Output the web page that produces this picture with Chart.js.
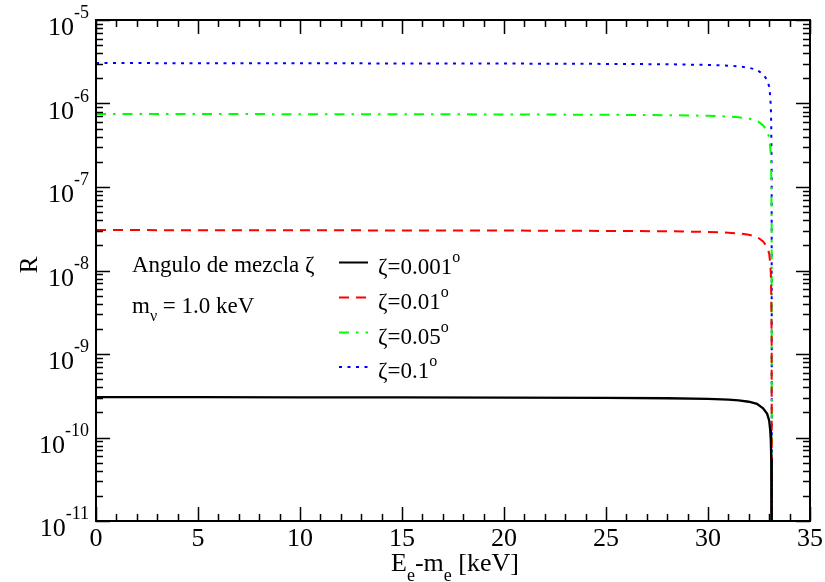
<!DOCTYPE html>
<html>
<head>
<meta charset="utf-8">
<script src="https://cdn.jsdelivr.net/npm/chart.js@4/dist/chart.umd.min.js"></script>
<style>
html,body{margin:0;padding:0;background:#fff;}
canvas{display:block;}
</style>
</head>
<body>
<canvas id="c" width="825" height="582"></canvas>
<script>
// ---- data ----
const energy = [0, 5, 10, 15, 20, 25, 28, 30, 31, 31.5, 32, 32.4, 32.7, 32.9, 33.0, 33.05, 33.08, 33.1, 33.12, 33.13];
const rZeta0001 = [3.05e-10, 3.04e-10, 3.03e-10, 3.02e-10, 3.01e-10, 2.98e-10, 2.95e-10, 2.90e-10, 2.84e-10, 2.78e-10, 2.68e-10, 2.53e-10, 2.23e-10, 1.92e-10, 1.59e-10, 1.22e-10, 0.92e-10, 0.55e-10, 0.15e-10, 1e-13];
const rZeta001  = [3.05e-8, 3.04e-8, 3.03e-8, 3.02e-8, 3.01e-8, 2.98e-8, 2.95e-8, 2.90e-8, 2.84e-8, 2.78e-8, 2.68e-8, 2.53e-8, 2.23e-8, 1.92e-8, 1.59e-8, 1.22e-8, 0.92e-8, 0.55e-8, 0.15e-8, 1e-13];
const rZeta005  = [7.50e-7, 7.48e-7, 7.45e-7, 7.43e-7, 7.40e-7, 7.33e-7, 7.25e-7, 7.13e-7, 6.98e-7, 6.83e-7, 6.60e-7, 6.23e-7, 5.48e-7, 4.73e-7, 3.90e-7, 3.00e-7, 2.25e-7, 1.35e-7, 0.375e-7, 1e-13];
const rZeta01   = [3.05e-6, 3.04e-6, 3.03e-6, 3.02e-6, 3.01e-6, 2.98e-6, 2.95e-6, 2.90e-6, 2.84e-6, 2.78e-6, 2.68e-6, 2.53e-6, 2.23e-6, 1.92e-6, 1.59e-6, 1.22e-6, 0.92e-6, 0.55e-6, 0.15e-6, 1e-13];
const seriesLabels = ["ζ=0.001", "ζ=0.01", "ζ=0.05", "ζ=0.1"];
const xTicks = [0, 5, 10, 15, 20, 25, 30, 35];
const yExponents = [-11, -10, -9, -8, -7, -6, -5];

const SERIF = '"Liberation Serif", "Times New Roman", serif';
const colors = ['#000000', '#ff0000', '#00ff00', '#0000ff'];
const dashes = [[], [10, 7], [10, 7, 2.5, 7], [3, 5.5]];
const allSeries = [rZeta0001, rZeta001, rZeta005, rZeta01];

const datasets = allSeries.map((arr, i) => ({
  label: seriesLabels[i],
  data: energy.map((e, j) => ({x: e, y: arr[j]})),
  borderColor: colors[i],
  borderWidth: i === 0 ? 2.3 : 2,
  borderDash: dashes[i],
  pointRadius: 0,
  fill: false,
  tension: 0
}));

const decor = {
  id: 'decor',
  afterDraw(chart) {
    const ctx = chart.ctx;
    const a = chart.chartArea;
    const xs = chart.scales.x, ys = chart.scales.y;
    ctx.save();
    ctx.strokeStyle = '#000';
    ctx.lineWidth = 2;
    ctx.setLineDash([]);
    ctx.strokeRect(a.left, a.top, a.right - a.left, a.bottom - a.top);
    ctx.lineWidth = 1.5;
    ctx.beginPath();
    for (let v = 0; v <= 35; v += 1) {
      const px = Math.round(xs.getPixelForValue(v)) + 0.5;
      const len = (v % 5 === 0) ? 14 : 7;
      ctx.moveTo(px, a.bottom); ctx.lineTo(px, a.bottom - len);
      ctx.moveTo(px, a.top); ctx.lineTo(px, a.top + len);
    }
    for (let e = -11; e <= -5; e++) {
      for (let m = 1; m <= 9; m++) {
        if (e === -5 && m > 1) break;
        const py = Math.round(ys.getPixelForValue(m * Math.pow(10, e))) + 0.5;
        const len = (m === 1) ? 14 : 7;
        ctx.moveTo(a.left, py); ctx.lineTo(a.left + len, py);
        ctx.moveTo(a.right, py); ctx.lineTo(a.right - len, py);
      }
    }
    ctx.stroke();

    ctx.fillStyle = '#000';
    ctx.font = '26px ' + SERIF;
    ctx.textAlign = 'center';
    ctx.textBaseline = 'alphabetic';
    xTicks.forEach(v => {
      ctx.fillText(String(v), xs.getPixelForValue(v), 546);
    });
    yExponents.forEach(n => {
      const py = ys.getPixelForValue(Math.pow(10, n));
      ctx.font = '18px ' + SERIF;
      const exp = String(n);
      const we = ctx.measureText(exp).width;
      ctx.font = '26px ' + SERIF;
      const wb = ctx.measureText('10').width;
      const right = 89;
      ctx.textAlign = 'left';
      ctx.fillText('10', right - we - wb, py + 15);
      ctx.font = '18px ' + SERIF;
      ctx.fillText(exp, right - we, py - 2);
    });

    function rich(segs, x, y, align) {
      let total = 0;
      segs.forEach(s => { ctx.font = s.size + 'px ' + SERIF; s.w = ctx.measureText(s.t).width; total += s.w; });
      let cx = align === 'center' ? x - total / 2 : x;
      ctx.textAlign = 'left';
      segs.forEach(s => { ctx.font = s.size + 'px ' + SERIF; ctx.fillText(s.t, cx, y + (s.dy || 0)); cx += s.w; });
    }
    rich([{t: 'E', size: 26}, {t: 'e', size: 18, dy: 10}, {t: '-m', size: 26}, {t: 'e', size: 18, dy: 10}, {t: ' [keV]', size: 26}], 455, 571, 'center');
    ctx.save();
    ctx.translate(37, 265);
    ctx.rotate(-Math.PI / 2);
    ctx.font = '25px ' + SERIF;
    ctx.textAlign = 'center';
    ctx.fillText('R', 0, 0);
    ctx.restore();

    rich([{t: 'Angulo de mezcla ζ', size: 23}], 132, 272, 'left');
    rich([{t: 'm', size: 23}, {t: 'ν', size: 16, dy: 8}, {t: ' = 1.0 keV', size: 23}], 132, 313, 'left');

    const rowsY = [262.5, 297.5, 332.5, 367];
    seriesLabels.forEach((lab, i) => {
      ctx.strokeStyle = colors[i];
      ctx.lineWidth = 2;
      ctx.setLineDash(dashes[i]);
      ctx.beginPath();
      ctx.moveTo(339, rowsY[i]); ctx.lineTo(368, rowsY[i]);
      ctx.stroke();
      ctx.setLineDash([]);
      ctx.fillStyle = '#000';
      rich([{t: lab, size: 23}, {t: 'o', size: 16, dy: -12}], 378, rowsY[i] + 11, 'left');
    });
    ctx.restore();
  }
};

new Chart(document.getElementById('c'), {
  type: 'line',
  data: { datasets },
  options: {
    responsive: false,
    animation: false,
    devicePixelRatio: 1,
    layout: { padding: { top: 20, right: 15, left: 0, bottom: 0 } },
    plugins: { legend: { display: false }, tooltip: { enabled: false } },
    scales: {
      x: {
        type: 'linear', min: 0, max: 35,
        grid: { display: false },
        border: { display: false },
        ticks: { display: false },
        afterFit(s) { s.height = 61; }
      },
      y: {
        type: 'logarithmic', min: 1e-11, max: 1e-5,
        grid: { display: false },
        border: { display: false },
        ticks: { display: false },
        afterFit(s) { s.width = 96; }
      }
    }
  },
  plugins: [decor]
});
</script>
</body>
</html>
